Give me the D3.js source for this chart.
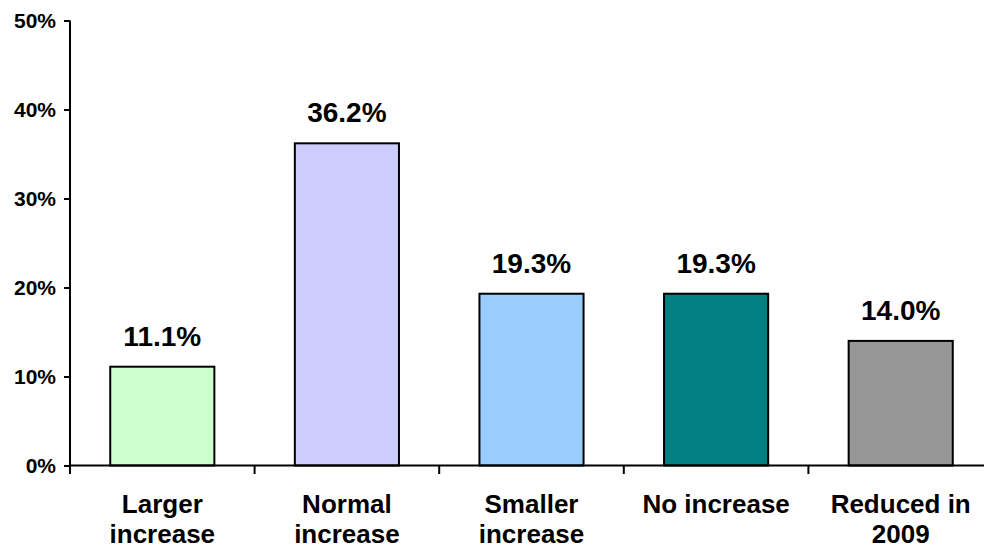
<!DOCTYPE html>
<html>
<head>
<meta charset="utf-8">
<script src="https://cdn.jsdelivr.net/npm/d3@7"></script>
<style>
  html, body { margin: 0; padding: 0; background: #fff; }
  svg { display: block; font-family: "Liberation Sans", Arial, sans-serif; }
</style>
</head>
<body>
<svg id="chart" width="985" height="550"></svg>
<script>
// Share of respondents by expected change
const categories = [["Larger", "increase"], ["Normal", "increase"], ["Smaller", "increase"], ["No increase"], ["Reduced in", "2009"]];
const values = [0.111, 0.362, 0.193, 0.193, 0.140];
const colors = ["#CCFFCC", "#CCCCFF", "#99CCFF", "#008080", "#969696"];
const yTicks = [0, 0.1, 0.2, 0.3, 0.4, 0.5];

const svg = d3.select("#chart");
const x0 = 70, xEnd = 993, axisEnd = 984;
const yTop = 20.5, yBase = 465.5;

const x = d3.scaleBand()
  .domain(d3.range(values.length))
  .range([x0, xEnd])
  .paddingInner(0.436)
  .paddingOuter(0.218);

const y = d3.scaleLinear().domain([0, 0.5]).range([yBase, yTop]);

// Bars
svg.append("g").selectAll("rect")
  .data(values)
  .join("rect")
  .attr("x", (d, i) => x(i))
  .attr("y", d => y(d))
  .attr("width", x.bandwidth())
  .attr("height", d => yBase - y(d))
  .attr("fill", (d, i) => colors[i])
  .attr("stroke", "#000")
  .attr("stroke-width", 2);

// Value labels
svg.append("g").selectAll("text")
  .data(values)
  .join("text")
  .attr("x", (d, i) => x(i) + x.bandwidth() / 2)
  .attr("y", d => y(d) - 21)
  .attr("text-anchor", "middle")
  .attr("font-size", 28)
  .attr("font-weight", "bold")
  .attr("fill", "#000")
  .text(d => (d * 100).toFixed(1) + "%");

// Y axis
const yAxis = d3.axisLeft(y)
  .tickValues(yTicks)
  .tickSize(6)
  .tickPadding(8)
  .tickFormat(d3.format(".0%"));

const gy = svg.append("g").attr("transform", `translate(${x0},0)`).call(yAxis);
gy.select(".domain").remove();
gy.selectAll(".tick line").attr("stroke", "#000").attr("stroke-width", 2);
gy.selectAll(".tick text")
  .attr("font-size", 21)
  .attr("font-weight", "bold")
  .attr("font-family", "Liberation Sans, Arial, sans-serif")
  .attr("fill", "#000")
  .attr("dy", "0.35em");
svg.append("line")
  .attr("x1", x0).attr("x2", x0)
  .attr("y1", yTop).attr("y2", yBase + 8.5)
  .attr("stroke", "#000").attr("stroke-width", 2);

// X axis baseline and category separators
svg.append("line")
  .attr("x1", x0).attr("x2", axisEnd)
  .attr("y1", yBase).attr("y2", yBase)
  .attr("stroke", "#000").attr("stroke-width", 2);

const step = x.step();
const sepX = d3.range(1, values.length).map(i => x(i) - x.paddingInner() * step / 2);
svg.append("g").selectAll("line")
  .data(sepX)
  .join("line")
  .attr("x1", d => d).attr("x2", d => d)
  .attr("y1", yBase).attr("y2", yBase + 8.5)
  .attr("stroke", "#000").attr("stroke-width", 2);

// Category labels
const cat = svg.append("g").selectAll("text")
  .data(categories)
  .join("text")
  .attr("x", (d, i) => x(i) + x.bandwidth() / 2)
  .attr("y", 513)
  .attr("text-anchor", "middle")
  .attr("font-size", 26)
  .attr("font-weight", "bold")
  .attr("fill", "#000");
cat.selectAll("tspan")
  .data(d => d)
  .join("tspan")
  .attr("x", function () { return d3.select(this.parentNode).attr("x"); })
  .attr("dy", (d, i) => i === 0 ? 0 : 30)
  .text(d => d);
</script>
</body>
</html>
